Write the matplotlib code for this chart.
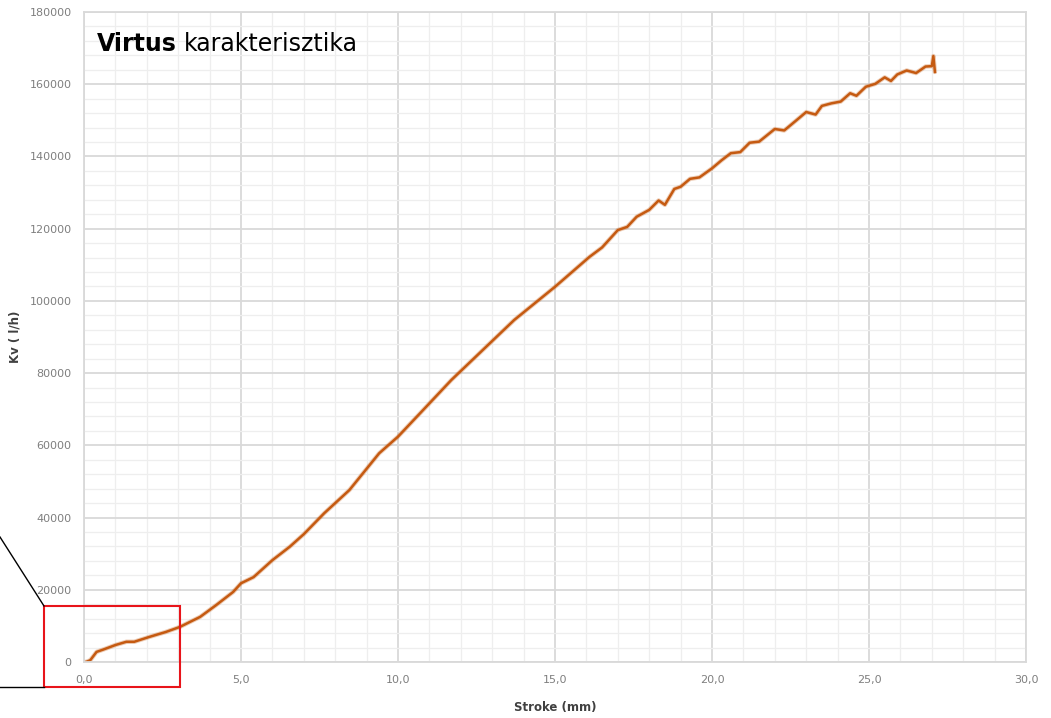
import matplotlib.pyplot as plt
from matplotlib.lines import Line2D
from matplotlib.patches import Rectangle
from matplotlib.ticker import MultipleLocator, FuncFormatter

# stroke (mm) vs Kv (l/h)
stroke = [0.0, 0.06, 0.2, 0.4, 0.6, 1.0, 1.35, 1.6, 2.1, 2.6, 3.05, 3.7, 4.2,
          4.75, 5.0, 5.4, 6.0, 6.55, 7.0, 7.65, 8.45, 9.4, 10.0, 10.9, 11.7,
          12.7, 13.7, 15.0, 16.1, 16.5, 17.0, 17.3, 17.6, 18.0, 18.3, 18.5,
          18.8, 19.0, 19.3, 19.6, 20.0, 20.3, 20.6, 20.9, 21.2, 21.5, 21.7,
          22.0, 22.3, 22.7, 23.0, 23.3, 23.5, 23.8, 24.1, 24.4, 24.6, 24.9,
          25.2, 25.5, 25.7, 25.9, 26.2, 26.5, 26.8, 27.0, 27.05, 27.1]
kv = [0, 0, 500, 2800, 3400, 4700, 5600, 5600, 7000, 8300, 9700, 12500, 15700,
      19400, 21800, 23500, 28200, 31900, 35400, 41200, 47600, 57800, 62400,
      70700, 78100, 86400, 94700, 103900, 112200, 114800, 119600, 120500,
      123300, 125200, 127800, 126600, 131000, 131600, 133800, 134200, 136700,
      138900, 140900, 141200, 143800, 144100, 145500, 147600, 147200, 150100,
      152300, 151600, 154000, 154700, 155200, 157500, 156800, 159300, 160100,
      161900, 160900, 162700, 163800, 163100, 164900, 165000, 167800, 163400]

W, H = 1051, 718
fig = plt.figure(figsize=(W / 100, H / 100), dpi=100)
ax = fig.add_axes([84 / W, 1 - 662 / H, (1026 - 84) / W, (662 - 12) / H])

line_color = "#C55A11"
ax.plot(stroke, kv, color=line_color, lw=3.2, alpha=0.3, solid_capstyle="round")
ax.plot(stroke, kv, color=line_color, lw=1.8, solid_joinstyle="round")

ax.set_xlim(0, 30)
ax.set_ylim(0, 180000)
ax.xaxis.set_major_locator(MultipleLocator(5))
ax.xaxis.set_minor_locator(MultipleLocator(1))
ax.yaxis.set_major_locator(MultipleLocator(20000))
ax.yaxis.set_minor_locator(MultipleLocator(4000))
ax.xaxis.set_major_formatter(FuncFormatter(lambda v, p: f"{v:.1f}".replace(".", ",")))
ax.yaxis.set_major_formatter(FuncFormatter(lambda v, p: f"{int(v)}"))

ax.grid(which="major", color="#d9d9d9", lw=1.3)
ax.grid(which="minor", color="#eeeeee", lw=0.9)
ax.set_axisbelow(True)
for s in ax.spines.values():
    s.set_color("#d9d9d9")
    s.set_linewidth(1.3)

ax.tick_params(which="both", length=0, pad=9, labelsize=8, labelcolor="#7f7f7f")

ax.set_xlabel("Stroke (mm)", fontsize=8.5, color="#404040",
              fontweight="bold", labelpad=12)
ax.set_ylabel("Kv ( l/h)", fontsize=8.5, color="#404040", fontweight="bold")
ax.yaxis.set_label_coords((22 - 84) / 942, 0.5)

# title: bold "Virtus" followed by regular text
t1 = fig.text(97 / W, 1 - 51 / H, "Virtus", fontsize=17, fontweight="bold",
              family="DejaVu Sans", color="black", va="baseline")
fig.canvas.draw()
bb = t1.get_window_extent()
fig.text((bb.x1 + 7) / W, 1 - 51 / H, "karakterisztika", fontsize=17,
         family="DejaVu Sans", color="black", va="baseline")

# zoom marker: red box with black leader lines
fig.add_artist(Rectangle((44 / W, 1 - 687 / H), 136 / W, 81 / H,
                         transform=fig.transFigure, fill=False,
                         edgecolor="#e8141a", lw=1.5))
fig.add_artist(Line2D([0, 44 / W], [1 - 537 / H, 1 - 606 / H],
                      transform=fig.transFigure, color="black", lw=1.0))
fig.add_artist(Line2D([0, 44 / W], [1 - 687 / H, 1 - 687 / H],
                      transform=fig.transFigure, color="black", lw=1.0))

fig.savefig("out.png", dpi=100)
